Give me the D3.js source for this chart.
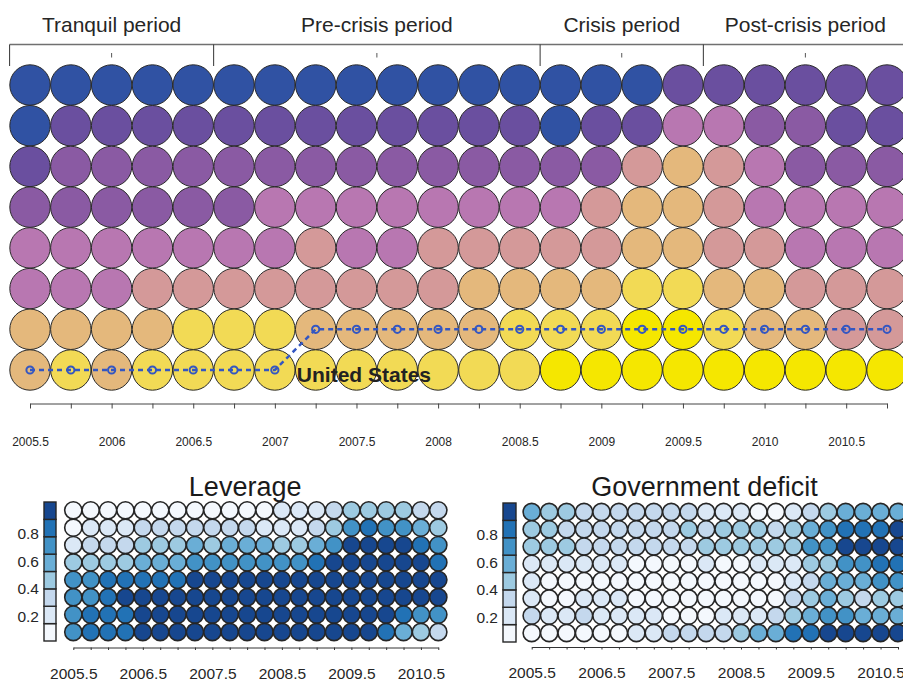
<!DOCTYPE html>
<html>
<head>
<meta charset="utf-8">
<script src="https://cdn.jsdelivr.net/npm/d3@7"></script>
<style>
  body { margin: 0; background: #fff; }
  svg { display: block; font-family: "Liberation Sans", Arial, sans-serif; }
</style>
</head>
<body>
<svg id="chart" width="903" height="682"></svg>
<script>
// quarters shown on every axis
var quarters = [2005.5, 2005.75, 2006, 2006.25, 2006.5, 2006.75, 2007, 2007.25, 2007.5, 2007.75,
  2008, 2008.25, 2008.5, 2008.75, 2009, 2009.25, 2009.5, 2009.75, 2010, 2010.25, 2010.5, 2010.75];
var topTickLabels = [2005.5, 2006, 2006.5, 2007, 2007.5, 2008, 2008.5, 2009, 2009.5, 2010, 2010.5];
var bottomTickLabels = [2005.5, 2006.5, 2007.5, 2008.5, 2009.5, 2010.5];

var periods = ["Tranquil period", "Pre-crisis period", "Crisis period", "Post-crisis period"];
var periodFirst = [2005.5, 2006.75, 2008.75, 2009.75];
var periodLast = [2006.5, 2008.5, 2009.5, 2010.75];

// top panel: colour class (1..8) of each rank row per quarter
var topRow1 = [1,1,1,1,1,1,1,1,1,1,1,1,1,1,1,1,2,2,2,2,2,2];
var topRow2 = [1,2,2,2,2,2,2,2,2,2,2,2,2,1,2,2,4,4,3,3,2,2];
var topRow3 = [2,3,3,3,3,3,3,3,3,3,3,3,3,3,3,5,6,5,4,3,3,3];
var topRow4 = [3,3,3,3,3,3,4,4,4,4,4,4,4,4,5,6,6,5,4,4,4,4];
var topRow5 = [4,4,4,4,4,4,4,5,4,4,5,5,5,5,5,6,6,5,5,4,4,4];
var topRow6 = [4,4,4,5,5,5,5,5,5,5,5,6,6,6,6,7,7,6,6,5,5,5];
var topRow7 = [6,6,6,6,7,7,7,6,6,6,6,6,7,7,7,8,8,7,6,6,5,5];
var topRow8 = [6,7,6,7,7,7,7,7,7,7,7,7,7,8,8,8,8,8,8,8,8,8];
var usRank = [8,8,8,8,8,8,8,7,7,7,7,7,7,7,7,7,7,7,7,7,7,7];

// leverage panel, colour bin (1..8), top row first
var levRow1 = [1,1,1,1,1,1,1,1,1,1,1,1,2,2,2,3,4,4,4,4,3,3];
var levRow2 = [1,2,2,2,3,3,3,3,3,3,3,2,2,2,3,4,6,7,6,6,5,4];
var levRow3 = [2,3,3,3,4,4,4,5,4,5,5,5,4,4,5,6,8,8,8,8,7,6];
var levRow4 = [4,4,4,4,5,5,5,6,6,6,6,6,6,6,7,8,8,8,8,8,8,7];
var levRow5 = [6,6,7,7,7,7,7,8,8,8,8,8,8,8,8,8,8,8,8,8,8,8];
var levRow6 = [6,6,7,8,8,8,8,8,8,8,8,8,8,8,8,8,8,8,8,8,8,8];
var levRow7 = [6,7,7,7,8,8,8,8,8,8,8,8,8,8,8,8,8,8,8,7,6,6];
var levRow8 = [6,7,7,7,8,8,8,8,8,8,8,8,8,8,8,8,8,8,7,5,4,3];

// government deficit panel
var govRow1 = [5,4,4,3,3,3,3,3,3,3,2,2,2,1,1,2,3,4,5,5,5,5];
var govRow2 = [4,4,3,3,3,3,3,3,3,4,3,4,4,4,3,4,5,6,7,7,7,8];
var govRow3 = [4,4,4,3,3,3,3,3,3,3,4,4,4,4,4,4,6,6,8,8,8,8];
var govRow4 = [2,2,2,2,2,2,1,1,1,1,2,1,1,2,2,2,4,4,6,6,7,7];
var govRow5 = [2,1,1,1,1,1,1,1,1,1,1,1,1,1,1,2,3,5,5,5,6,6];
var govRow6 = [2,1,1,2,2,2,1,1,1,1,1,1,1,1,1,3,4,5,4,3,4,4];
var govRow7 = [3,2,2,3,2,2,2,2,1,1,1,2,2,2,3,4,5,6,6,5,5,5];
var govRow8 = [1,1,1,1,1,1,2,2,3,3,3,3,4,5,5,7,7,8,8,8,8,8];

var colorbarTicks = [0.2, 0.4, 0.6, 0.8];

var topColors = ['#3052a3', '#6a4f9f', '#8a5aa3', '#b877b1', '#d49999', '#e4b87c', '#f2da55', '#f5e700'];
var blueColors = ['#f4f8fd', '#dbe8f6', '#c4d8ed', '#9dcae1', '#6aaed6', '#4292c6', '#2272b5', '#17478f'];
var textColor = '#262626';

var svg = d3.select('#chart');

// ---------- top panel ----------
var topRows = [topRow1, topRow2, topRow3, topRow4, topRow5, topRow6, topRow7, topRow8];
var xTop = d3.scaleLinear().domain([quarters[0], quarters[quarters.length - 1]]).range([30, 887]);
var step = xTop(quarters[1]) - xTop(quarters[0]);
var yTop = d3.scaleLinear().domain([1, 8]).range([85, 370]);
var topColor = d3.scaleOrdinal().domain([1, 2, 3, 4, 5, 6, 7, 8]).range(topColors);

var topCells = [];
topRows.forEach(function (row, r) {
  row.forEach(function (v, c) {
    topCells.push({ q: quarters[c], rank: r + 1, level: v });
  });
});

svg.append('g').selectAll('circle')
  .data(topCells)
  .enter().append('circle')
  .attr('cx', function (d) { return xTop(d.q); })
  .attr('cy', function (d) { return yTop(d.rank); })
  .attr('r', 20.2)
  .attr('fill', function (d) { return topColor(d.level); })
  .attr('stroke', '#2a2a2a')
  .attr('stroke-width', 1);

// period bracket
var bracketY = 44.5;
var bracket = svg.append('g');
bracket.append('line')
  .attr('x1', xTop(periodFirst[0]) - step / 2).attr('x2', xTop(periodLast[3]) + step / 2)
  .attr('y1', bracketY).attr('y2', bracketY)
  .attr('stroke', '#707070').attr('stroke-width', 1.6);
periodFirst.forEach(function (q, i) {
  var left = xTop(q) - step / 2;
  var mid = (xTop(q) + xTop(periodLast[i])) / 2;
  bracket.append('line')
    .attr('x1', left).attr('x2', left)
    .attr('y1', bracketY).attr('y2', 66)
    .attr('stroke', '#333').attr('stroke-width', 1);
  bracket.append('line')
    .attr('x1', mid).attr('x2', mid)
    .attr('y1', 53).attr('y2', 57.5)
    .attr('stroke', '#555').attr('stroke-width', 1);
  bracket.append('text')
    .attr('x', mid).attr('y', 32)
    .attr('text-anchor', 'middle')
    .attr('font-size', 21)
    .attr('fill', textColor)
    .text(periods[i]);
});

// top axis
var topAxis = d3.axisBottom(xTop)
  .tickValues(quarters)
  .tickSize(5)
  .tickSizeOuter(0)
  .tickPadding(29)
  .tickFormat(function (d) { return topTickLabels.indexOf(d) >= 0 ? String(d) : ''; });
var gTopAxis = svg.append('g').attr('transform', 'translate(0,403.5)').call(topAxis);
gTopAxis.select('.domain').attr('stroke', '#444');
gTopAxis.selectAll('.tick line').attr('stroke', '#444');
gTopAxis.selectAll('text').attr('font-size', 12).attr('fill', textColor)
  .attr('font-family', '"Liberation Sans", Arial, sans-serif');

// United States path
var usPoints = usRank.map(function (r, i) { return { q: quarters[i], rank: r }; });
var usLine = d3.line()
  .x(function (d) { return xTop(d.q); })
  .y(function (d) { return yTop(d.rank); });
svg.append('path')
  .datum(usPoints)
  .attr('d', usLine)
  .attr('fill', 'none')
  .attr('stroke', '#3356c2')
  .attr('stroke-width', 2.5)
  .attr('stroke-dasharray', '5,4');
svg.append('g').selectAll('circle')
  .data(usPoints)
  .enter().append('circle')
  .attr('cx', function (d) { return xTop(d.q); })
  .attr('cy', function (d) { return yTop(d.rank); })
  .attr('r', 3.6)
  .attr('fill', 'none')
  .attr('stroke', '#3356c2')
  .attr('stroke-width', 2);
svg.append('text')
  .attr('x', xTop(quarters[6]) + 22)
  .attr('y', yTop(8) + 11.5)
  .attr('font-size', 21)
  .attr('font-weight', 'bold')
  .attr('fill', '#222')
  .text('United States');

// ---------- bottom panels ----------
function drawPanel(rows, title, opts) {
  var g = svg.append('g');
  var x = d3.scaleLinear().domain([quarters[0], quarters[quarters.length - 1]]).range([opts.x0, opts.x1]);
  var y = d3.scaleLinear().domain([1, 8]).range([opts.y0, opts.y1]);
  var color = d3.scaleOrdinal().domain([1, 2, 3, 4, 5, 6, 7, 8]).range(blueColors);

  var cells = [];
  rows.forEach(function (row, r) {
    row.forEach(function (v, c) { cells.push({ q: quarters[c], row: r + 1, level: v }); });
  });
  g.selectAll('circle')
    .data(cells)
    .enter().append('circle')
    .attr('cx', function (d) { return x(d.q); })
    .attr('cy', function (d) { return y(d.row); })
    .attr('r', 8.6)
    .attr('fill', function (d) { return color(d.level); })
    .attr('stroke', '#262626')
    .attr('stroke-width', 1.6);

  // colour bar
  var cb = d3.scaleLinear().domain([0, 1]).range([opts.cbBottom, opts.cbTop]);
  var bins = d3.range(8).map(function (i) { return { lo: i / 8, hi: (i + 1) / 8, level: i + 1 }; });
  g.selectAll('rect')
    .data(bins)
    .enter().append('rect')
    .attr('x', opts.cbX)
    .attr('y', function (d) { return cb(d.hi); })
    .attr('width', opts.cbW)
    .attr('height', function (d) { return cb(d.lo) - cb(d.hi); })
    .attr('fill', function (d) { return color(d.level); })
    .attr('stroke', '#262626')
    .attr('stroke-width', 1.4);
  g.selectAll('.cbLabel')
    .data(colorbarTicks)
    .enter().append('text')
    .attr('class', 'cbLabel')
    .attr('x', opts.cbX - 5)
    .attr('y', function (d) { return cb(d) + 3.5; })
    .attr('dy', '0.35em')
    .attr('text-anchor', 'end')
    .attr('font-size', 15.5)
    .attr('fill', textColor)
    .text(function (d) { return d3.format('.1f')(d); });

  // axis
  var axis = d3.axisBottom(x)
    .tickValues(quarters)
    .tickSize(2.5)
    .tickSizeOuter(0)
    .tickPadding(17.5)
    .tickFormat(function (d) { return bottomTickLabels.indexOf(d) >= 0 ? String(d) : ''; });
  var ga = g.append('g').attr('transform', 'translate(0,' + opts.axisY + ')').call(axis);
  ga.select('.domain').attr('stroke', '#333');
  ga.selectAll('.tick line').attr('stroke', '#333');
  ga.selectAll('text').attr('font-size', 15.5).attr('fill', textColor)
    .attr('font-family', '"Liberation Sans", Arial, sans-serif');

  g.append('text')
    .attr('x', (opts.cbX + opts.x1) / 2 + 4)
    .attr('y', 496)
    .attr('text-anchor', 'middle')
    .attr('font-size', 27)
    .attr('fill', '#1a1a1a')
    .text(title);
}

drawPanel([levRow1, levRow2, levRow3, levRow4, levRow5, levRow6, levRow7, levRow8], 'Leverage', {
  x0: 73.3, x1: 438.3, y0: 510.3, y1: 632,
  cbX: 44, cbW: 12, cbTop: 502, cbBottom: 641, axisY: 647.5
});
drawPanel([govRow1, govRow2, govRow3, govRow4, govRow5, govRow6, govRow7, govRow8], 'Government deficit', {
  x0: 531.7, x1: 898, y0: 512, y1: 633,
  cbX: 503, cbW: 13, cbTop: 503, cbBottom: 642, axisY: 647
});
</script>
</body>
</html>
